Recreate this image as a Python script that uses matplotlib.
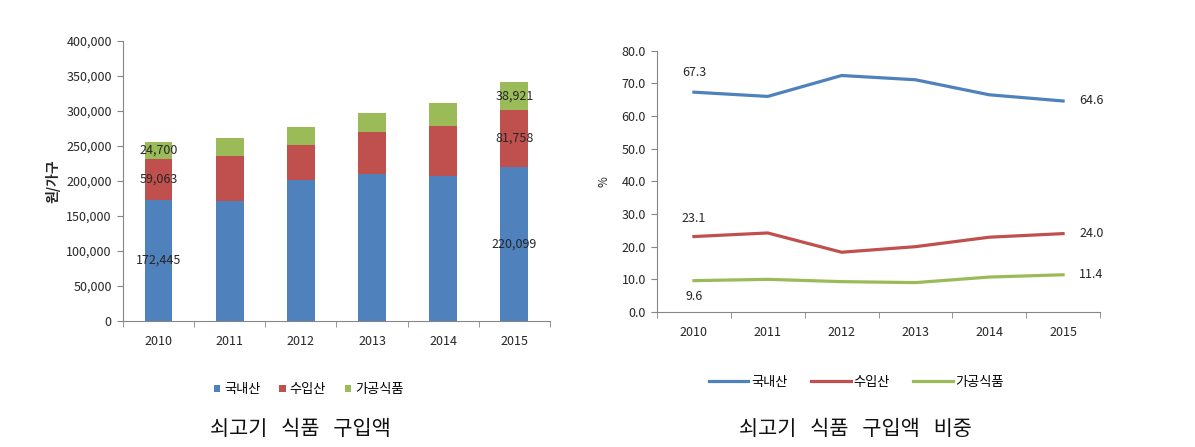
import numpy as np
import matplotlib
matplotlib.use('Agg')
import matplotlib.pyplot as plt
from matplotlib.ticker import FuncFormatter, FixedLocator

plt.rcParams['font.family'] = ['Noto Sans CJK KR', 'DejaVu Sans']

years = ['2010', '2011', '2012', '2013', '2014', '2015']
series = ['국내산', '수입산', '가공식품']

# 구입액 (원/가구)
domestic = [172445, 172000, 201000, 210500, 207000, 220099]
imported = [59063, 63500, 50500, 60000, 72000, 81758]
processed = [24700, 26000, 26300, 26000, 32000, 38921]

# 비중 (%)
share_domestic = [67.3, 66.0, 72.4, 71.1, 66.5, 64.6]
share_imported = [23.1, 24.2, 18.3, 20.0, 22.9, 24.0]
share_processed = [9.6, 10.0, 9.3, 9.0, 10.7, 11.4]

colors = ['#4F81BD', '#C0504D', '#9BBB59']
axis_gray = '#868686'
text_col = '#262626'

fig = plt.figure(figsize=(11.95, 4.47), dpi=100)

# ---------- left: stacked bars ----------
ax1 = fig.add_axes([0.1029, 0.2819, 0.3573, 0.6264])
x = np.arange(len(years))
bottom = np.zeros(len(years))
for vals, c, name in zip([domestic, imported, processed], colors, series):
    ax1.bar(x, vals, width=0.39, bottom=bottom, color=c, label=name)
    for i in (0, len(years) - 1):
        ax1.text(x[i], bottom[i] + vals[i] / 2, f'{vals[i]:,}', ha='center', va='center',
                 fontsize=9, color=text_col)
    bottom += np.array(vals)

ax1.set_xlim(-0.5, 5.5)
ax1.set_ylim(0, 400000)
ax1.set_yticks(np.arange(0, 400001, 50000))
ax1.yaxis.set_major_formatter(FuncFormatter(lambda v, p: f'{int(v):,}'))
ax1.set_xticks(x)
ax1.set_xticklabels(years)
ax1.xaxis.set_minor_locator(FixedLocator(np.arange(-0.5, 5.6, 1)))
ax1.tick_params(axis='x', which='major', length=0, pad=10, labelsize=9, labelcolor=text_col)
ax1.tick_params(axis='x', which='minor', length=4, color=axis_gray)
ax1.tick_params(axis='y', length=4, color=axis_gray, labelsize=9, labelcolor=text_col, pad=4)
for s in ('top', 'right'):
    ax1.spines[s].set_visible(False)
for s in ('left', 'bottom'):
    ax1.spines[s].set_color(axis_gray)
ax1.set_ylabel('원/가구', fontsize=10, fontweight='bold', color=text_col, labelpad=4)
ax1.legend(loc='center', bbox_to_anchor=(0.435, -0.245), ncol=3, frameon=False,
           fontsize=9.5, handlelength=0.5, handleheight=0.5, handletextpad=0.3,
           columnspacing=1.4)

# ---------- right: line chart ----------
ax2 = fig.add_axes([0.5498, 0.302, 0.3707, 0.5846])
for vals, c, name in zip([share_domestic, share_imported, share_processed], colors, series):
    ax2.plot(x, vals, color=c, lw=2.3, label=name)

ax2.text(x[0], share_domestic[0] + 6, f'{share_domestic[0]:.1f}', ha='center', va='center', fontsize=9, color=text_col)
ax2.text(x[0], share_imported[0] + 5.4, f'{share_imported[0]:.1f}', ha='center', va='center', fontsize=9, color=text_col)
ax2.text(x[0], share_processed[0] - 5, f'{share_processed[0]:.1f}', ha='center', va='center', fontsize=9, color=text_col)
for vals in (share_domestic, share_imported, share_processed):
    ax2.text(x[-1] + 0.22, vals[-1], f'{vals[-1]:.1f}', ha='left', va='center', fontsize=9, color=text_col)

ax2.set_xlim(-0.5, 5.5)
ax2.set_ylim(0, 80)
ax2.set_yticks(np.arange(0, 80.1, 10))
ax2.yaxis.set_major_formatter(FuncFormatter(lambda v, p: f'{v:.1f}'))
ax2.set_xticks(x)
ax2.set_xticklabels(years)
ax2.xaxis.set_minor_locator(FixedLocator(np.arange(-0.5, 5.6, 1)))
ax2.tick_params(axis='x', which='major', length=0, pad=10, labelsize=9, labelcolor=text_col)
ax2.tick_params(axis='x', which='minor', length=4, color=axis_gray)
ax2.tick_params(axis='y', length=4, color=axis_gray, labelsize=9, labelcolor=text_col, pad=4)
for s in ('top', 'right'):
    ax2.spines[s].set_visible(False)
for s in ('left', 'bottom'):
    ax2.spines[s].set_color(axis_gray)
ax2.set_ylabel('%', fontsize=8.5, color=text_col, labelpad=8)
ax2.legend(loc='center', bbox_to_anchor=(0.45, -0.27), ncol=3, frameon=False,
           fontsize=9.5, handlelength=3.0, handletextpad=0.2, columnspacing=1.8)

# ---------- captions ----------
fig.text(0.251, 0.04, '쇠고기   식품   구입액', ha='center', va='center', fontsize=15, color='#111111')
fig.text(0.716, 0.04, '쇠고기   식품   구입액   비중', ha='center', va='center', fontsize=15, color='#111111')

fig.savefig('out.png', dpi=100, facecolor='white')
